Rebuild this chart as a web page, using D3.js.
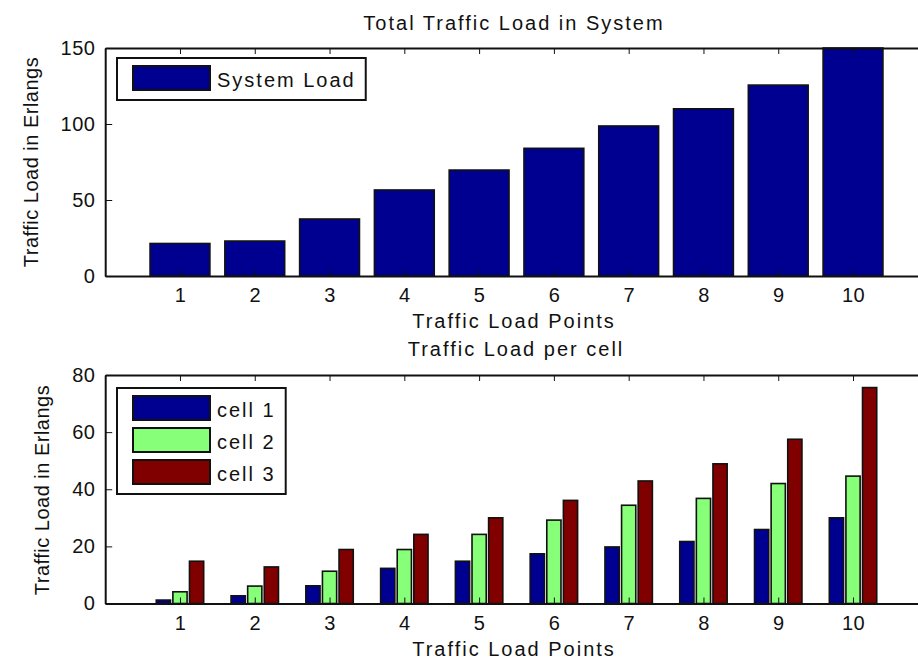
<!DOCTYPE html>
<html>
<head>
<meta charset="utf-8">
<script src="https://cdn.jsdelivr.net/npm/d3@7"></script>
<style>
  html, body { margin: 0; padding: 0; background: #fff; }
  svg { display: block; font-family: "Liberation Sans", Arial, sans-serif; }
  .lbl { font-size: 20px; letter-spacing: 2px; fill: #111; }
  .ylbl { font-size: 20px; letter-spacing: 0.5px; fill: #111; }
  .tick text { font-size: 20px; letter-spacing: 0.4px; fill: #111; font-family: "Liberation Sans", Arial, sans-serif; }
  .tick line, .domain { stroke: #111; }
</style>
</head>
<body>
<svg id="fig" width="918" height="662"></svg>
<script>
// Traffic load points on the x axis
const points = [1, 2, 3, 4, 5, 6, 7, 8, 9, 10];

// Total system load (Erlangs) at each point
const systemLoad = [21.4, 23.0, 37.5, 56.6, 69.7, 84.0, 98.7, 110.0, 125.6, 150.0];

// Load carried by each cell (Erlangs)
const cell1 = [1.2, 2.7, 6.2, 12.3, 14.8, 17.4, 19.8, 21.7, 25.9, 30.0];
const cell2 = [4.1, 6.1, 11.3, 18.9, 24.2, 29.2, 34.4, 36.8, 42.0, 44.6];
const cell3 = [14.8, 12.8, 18.9, 24.2, 30.0, 36.1, 42.9, 48.9, 57.5, 75.6];

const cellNames = ["cell 1", "cell 2", "cell 3"];
const cellColors = ["#000090", "#88ff78", "#800000"];

const topTicks = [0, 50, 100, 150];
const bottomTicks = [0, 20, 40, 60, 80];

const svg = d3.select("#fig");

const left = 105.2, right = 927.8;
const x = d3.scaleLinear().domain([0, 11]).range([left, right]);

function drawAxes(g, y, yTicks, top, bottom) {
  // inward ticks on all four sides, labels on bottom and left only
  g.append("g").attr("transform", `translate(0,${bottom})`)
    .call(d3.axisBottom(x).tickValues(points).tickSizeInner(-6).tickSizeOuter(0).tickPadding(12))
    .call(a => a.select(".domain").attr("stroke-width", 2));
  g.append("g").attr("transform", `translate(0,${top})`)
    .call(d3.axisTop(x).tickValues(points).tickSizeInner(-6).tickSizeOuter(0).tickFormat(""))
    .call(a => a.select(".domain").attr("stroke-width", 2));
  g.append("g").attr("transform", `translate(${left},0)`)
    .call(d3.axisLeft(y).tickValues(yTicks).tickSizeInner(-7).tickSizeOuter(0).tickPadding(10))
    .call(a => a.select(".domain").attr("stroke-width", 2));
  g.append("g").attr("transform", `translate(${right},0)`)
    .call(d3.axisRight(y).tickValues(yTicks).tickSizeInner(-7).tickSizeOuter(0).tickFormat(""))
    .call(a => a.select(".domain").attr("stroke-width", 2))
    .selectAll(".tick line").attr("stroke", "#999");
}

function drawLegend(g, items, x0, y0, rowH) {
  const lg = g.append("g");
  const box = lg.append("rect").attr("fill", "#fff").attr("stroke", "#111").attr("stroke-width", 2);
  let maxW = 0;
  items.forEach((it, i) => {
    const cy = y0 + 20 + i * rowH;
    lg.append("rect").attr("x", x0 + 16).attr("y", cy - 12).attr("width", 77).attr("height", 24)
      .attr("fill", it.color).attr("stroke", "#111").attr("stroke-width", 2);
    const t = lg.append("text").attr("class", "lbl").attr("x", x0 + 100).attr("y", cy + 9).text(it.name);
    maxW = Math.max(maxW, t.node().getComputedTextLength());
  });
  box.attr("x", x0).attr("y", y0)
    .attr("width", 100 + maxW + 10)
    .attr("height", 40 + (items.length - 1) * rowH + 2);
}

// ---------- Top panel: total load ----------
const yTop = d3.scaleLinear().domain([0, 150]).range([276, 48]);
const gTop = svg.append("g");
const barW = 0.8;
gTop.append("g").selectAll("rect").data(points).join("rect")
  .attr("x", (d) => x(d - barW / 2))
  .attr("width", x(barW) - x(0))
  .attr("y", (d, i) => yTop(systemLoad[i]))
  .attr("height", (d, i) => yTop(0) - yTop(systemLoad[i]))
  .attr("fill", "#000090").attr("stroke", "#111").attr("stroke-width", 1.6);
drawAxes(gTop, yTop, topTicks, 48, 276);
drawLegend(gTop, [{ name: "System Load", color: "#000090" }], 117, 58, 0);

gTop.append("text").attr("class", "lbl").attr("x", 514).attr("y", 30)
  .attr("text-anchor", "middle").text("Total Traffic Load in System");
gTop.append("text").attr("class", "lbl").attr("x", 514).attr("y", 328)
  .attr("text-anchor", "middle").text("Traffic Load Points");
gTop.append("text").attr("class", "ylbl")
  .attr("transform", `translate(38,162) rotate(-90)`)
  .attr("text-anchor", "middle").text("Traffic Load in Erlangs");

// ---------- Bottom panel: load per cell ----------
const yBot = d3.scaleLinear().domain([0, 80]).range([603.5, 375]);
const gBot = svg.append("g");
const cells = [cell1, cell2, cell3];
const slot = 0.222, cellW = 0.19;
cells.forEach((vals, k) => {
  gBot.append("g").selectAll("rect").data(points).join("rect")
    .attr("x", (d) => x(d + (k - 1) * slot - cellW / 2))
    .attr("width", x(cellW) - x(0))
    .attr("y", (d, i) => yBot(vals[i]))
    .attr("height", (d, i) => yBot(0) - yBot(vals[i]))
    .attr("fill", cellColors[k]).attr("stroke", "#111").attr("stroke-width", 1.6);
});
drawAxes(gBot, yBot, bottomTicks, 375, 603.5);
drawLegend(gBot, cellNames.map((n, i) => ({ name: n, color: cellColors[i] })), 117, 388, 32);

gBot.append("text").attr("class", "lbl").attr("x", 516).attr("y", 356)
  .attr("text-anchor", "middle").text("Traffic Load per cell");
gBot.append("text").attr("class", "lbl").attr("x", 514).attr("y", 656)
  .attr("text-anchor", "middle").text("Traffic Load Points");
gBot.append("text").attr("class", "ylbl")
  .attr("transform", `translate(49,490) rotate(-90)`)
  .attr("text-anchor", "middle").text("Traffic Load in Erlangs");
</script>
</body>
</html>
